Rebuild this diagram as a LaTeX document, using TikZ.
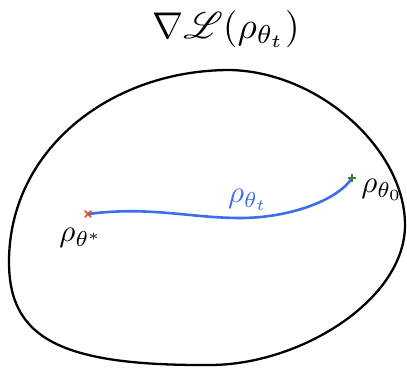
\documentclass[tikz,border=0pt]{standalone}
\usepackage{amsmath, amssymb}
\usepackage{mathrsfs}
\usepackage{tikz}
\usetikzlibrary{calc}

\definecolor{pathblue}{RGB}{60,110,235}
\definecolor{startgreen}{RGB}{70,115,45}
\definecolor{endred}{RGB}{225,75,50}

\begin{document}
\begin{tikzpicture}[x=1pt, y=-1pt,
    lbl/.style={scale=3.1, inner sep=0pt},
    mk/.style={line width=1.6pt, line cap=round}]
        \useasboundingbox (0,0) rectangle (407,369);
        % the set
        \draw[line width=2.3pt] (230,70)
            .. controls (320,72) and (405,150) .. (405,225)
            .. controls (405,300) and (300,365) .. (210,365)
            .. controls (60,366) and (9,338) .. (9,262)
            .. controls (9,150) and (110,70) .. cycle;
        % end points
        \coordinate (thstar) at (88,214);
        \coordinate (thinit) at (352,178);
        \draw[pathblue, line width=2.6pt, line cap=round] (thstar)
            .. controls (150,206) and (190,218) .. (240,218)
            .. controls (290,218) and (338,200) .. (thinit);
        \draw[endred, mk] ($(thstar)+(-3,-3)$) -- ($(thstar)+(3,3)$);
        \draw[endred, mk] ($(thstar)+(-3,3)$) -- ($(thstar)+(3,-3)$);
        \draw[startgreen, mk] ($(thinit)+(-3.5,0)$) -- ($(thinit)+(3.5,0)$);
        \draw[startgreen, mk] ($(thinit)+(0,-3.5)$) -- ($(thinit)+(0,3.5)$);
        % labels
        \node[lbl, scale=1.2] (loss) at (226,29) {$\nabla\mathscr{L}(\rho_{\theta_t})$};
        \node[lbl] (star) at (81,238) {$\rho_{\theta^*}$};
        \node[lbl] (init) at (382,190) {$\rho_{\theta_0}$};
        \node[lbl, pathblue] (rhot) at (248,200) {$\rho_{\theta_t}$};
    \end{tikzpicture}
\end{document}
